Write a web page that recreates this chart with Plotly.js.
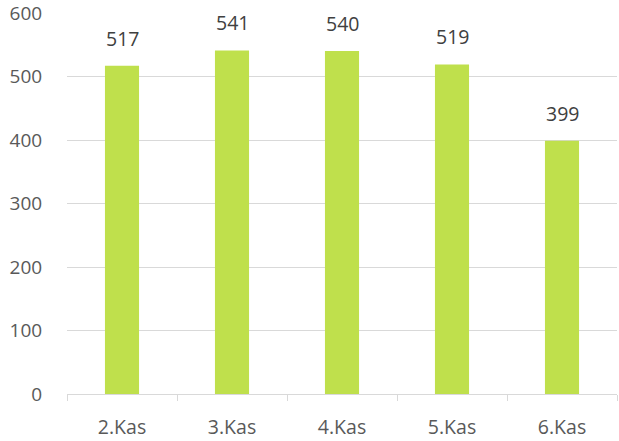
<!DOCTYPE html>
<html>
<head>
<meta charset="utf-8">
<script src="https://cdn.plot.ly/plotly-3.0.1.min.js"></script>
<style>html,body{margin:0;padding:0;background:#fff;}#chart{width:619px;height:441px;}</style>
</head>
<body>
<div id="chart"></div>
<script>
const categories = ["2.Kas", "3.Kas", "4.Kas", "5.Kas", "6.Kas"];
const values = [517, 541, 540, 519, 399];
const yTicks = [0, 100, 200, 300, 400, 500, 600];

const font = "Open Sans, Segoe UI, sans-serif";

const trace = {
  type: "bar",
  x: categories,
  y: values,
  marker: {color: "#BFE04C"},
  width: 0.31,
  hoverinfo: "none"
};

const annotations = categories.map((c, i) => ({
  x: c, y: values[i], xref: "x", yref: "y",
  text: String(values[i]), showarrow: false,
  yanchor: "bottom", yshift: 12,
  font: {family: font, size: 19.5, color: "#404040"}
}));

const layout = {
  width: 619, height: 441,
  margin: {l: 67, r: 2, t: 13, b: 47},
  paper_bgcolor: "#fff", plot_bgcolor: "#fff",
  showlegend: false,
  bargap: 0.69,
  xaxis: {
    type: "category",
    showgrid: false,
    showline: true, linecolor: "#d9d9d9", linewidth: 1,
    ticks: "outside", tickson: "boundaries", ticklen: 6, tickcolor: "#d9d9d9",
    tickfont: {family: font, size: 19.5, color: "#595959"},
    ticklabelstandoff: 16,
    ticklabeloverflow: "allow",
    fixedrange: true
  },
  yaxis: {
    range: [0, 600],
    tickvals: yTicks,
    showgrid: true, gridcolor: "#d9d9d9", gridwidth: 1,
    zeroline: false, showline: false,
    ticks: "outside", ticklen: 20, tickcolor: "rgba(0,0,0,0)",
    tickfont: {family: font, size: 19, color: "#595959"},
    ticklabeloverflow: "allow",
    fixedrange: true
  },
  annotations: annotations
};

Plotly.newPlot("chart", [trace], layout, {displayModeBar: false, staticPlot: true});
</script>
</body>
</html>
